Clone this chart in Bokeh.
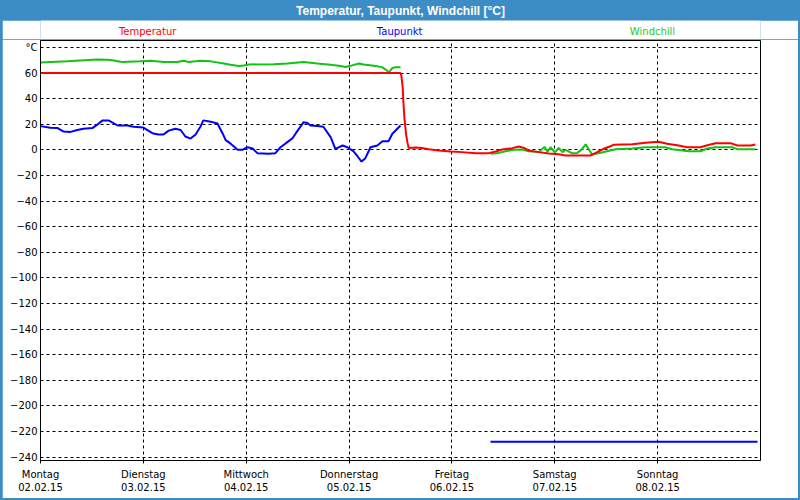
from bokeh.plotting import figure
from bokeh.models import FixedTicker, Range1d, Label
from bokeh.layouts import column
from bokeh.embed import file_html
from bokeh.resources import INLINE

NaN = float("nan")

# ---- data (hours since Monday 02.02.15 00:00) ----
day_ticks = [0, 24, 48, 72, 96, 120, 144]
day_labels = ["Montag\n02.02.15", "Dienstag\n03.02.15", "Mittwoch\n04.02.15",
              "Donnerstag\n05.02.15", "Freitag\n06.02.15", "Samstag\n07.02.15",
              "Sonntag\n08.02.15"]
y_ticks = [-240, -220, -200, -180, -160, -140, -120, -100, -80, -60, -40, -20, 0, 20, 40, 60, 80]
series_names = ["Temperatur", "Taupunkt", "Windchill"]
chart_title = "Temperatur, Taupunkt, Windchill [°C]"

temp_h = [0, 84, 84.2, 84.5, 84.7, 84.9, 85.3, 85.6, 85.9, 87.5,
          89, 90.6, 92.9, 95.7, 98.4, 101.5, 104.6, 106.2, 107.7, 110.1,
          111.6, 112.8, 113.9, 116.3, 118.6, 120.9, 122.5, 124.8, 128.3, 129.9,
          131.4, 133, 133.7, 138.1, 141.2, 144.2, 146.2, 148.9, 150.9, 154,
          155.6, 157.5, 161, 162.6, 165.7, 166.8]
temp_v = [60, 60, 58, 49, 36, 25.5, 12, 6, 1.5, 1.8,
          1.5, 0.5, -0.5, -1.3, -1.8, -2.6, -2.6, -1.3, 0.2, 1.3,
          2.6, 1.5, -0.5, -1.8, -2.9, -3.4, -4.5, -4.5, -4.5, -1.8,
          0.8, 2.8, 3.9, 4.4, 5.5, 6.3, 4.7, 3.4, 2, 2,
          3.6, 5.2, 5.2, 3.4, 3.4, 4.2]

tau_h = [0, 2.3, 4, 5.4, 7, 8.6, 10, 12.1, 13.5, 14.5,
         15.9, 18, 20.3, 21.7, 24, 26.1, 27.5, 28.7, 29.9, 31.5,
         32.7, 33.8, 35, 36.2, 37.3, 38, 39.7, 41.3, 42.5, 43.2,
         44.3, 46, 47.1, 48.3, 49.5, 50.6, 53.2, 54.8, 56, 57.6,
         58.8, 60, 61.4, 62.3, 63, 64.6, 66, 67.7, 68.8, 70.5,
         71.6, 73, 74, 74.9, 75.8, 77, 78.6, 79.8, 81.2, 82.1,
         84, NaN, 105, 120, 135, 150, 167.3]
tau_v = [18.5, 17.2, 17, 14.3, 14, 15.5, 16.5, 17, 20.3, 23,
         23, 19, 19, 18, 17.4, 13, 12, 12, 15, 16.5,
         15.5, 10.4, 8.8, 12, 18, 23, 22, 20.5, 12.8, 7.6,
         5, 0, 0, 2, 1, -2.6, -3.1, -2.6, 2, 6,
         9, 15, 21.6, 21, 19, 18.6, 18, 9.9, 0.8, 3.4,
         2, -1, -5.2, -9.2, -6.5, 2, 3.4, 6.7, 6.7, 12.5,
         19, NaN, -228, -228, -228, -228, -228]

wind_h = [0, 6.2, 13.2, 15.6, 16.7, 19, 23.3, 25.7, 28.8, 31.9,
          33.4, 34.6, 37.3, 39.7, 42.8, 44.3, 46.3, 47.4, 48.6, 54.4,
          57.6, 61.4, 64.6, 67.7, 70, 71.2, 72.3, 74.3, 75.4, 77.8,
          79.7, 80.9, 81.3, 82.1, 82.8, 84, NaN,
          105, 106.9, 108.5, 110.4, 112.4, 113.9, 116.3, 117.6, 118.3, 119,
          120, 120.9, 121.8, 122.5, 124, 125.2, 126.2, 127.2, 128.7, 130.7,
          132.2, 134.2, 138.1, 141.2, 145.8, 147.4, 151.2, 154, 155.6, 157.5,
          161.4, 162.6, 166.8]
wind_v = [68.3, 69.1, 70.6, 70.4, 69.9, 68.6, 69.1, 69.6, 68.6, 68.6,
          69.6, 68.6, 69.6, 69.1, 67.5, 66.5, 65.4, 65.8, 66.7, 66.9,
          67.5, 68.6, 67.5, 66.5, 65.4, 64.7, 65.6, 67.5, 66.7, 65.6,
          64.6, 61.8, 60.5, 63.9, 64.6, 64.6, NaN,
          -3.1, -2.4, -1.1, 0, 0.2, -1.1, -1.8, 2.3, -1.5, 2,
          -2, 1.5, -1.8, 0, -2.6, -2.4, 0, 4.3, -3.7, -2.3,
          -1.1, 0.5, 1, 2, 2, 0.5, -1.1, -1.1, 1, 2,
          2, 0.5, 0.5]

RED = "#ff0000"
BLUE = "#0000ff"
GREEN = "#12c412"
GREEN_TXT = "#22cc22"
BAR = "#3c8dc5"
FONT = "DejaVu Sans"


def bare(width, height, fill):
    f = figure(width=width, height=height, output_backend="svg", toolbar_location=None,
               x_range=Range1d(0, 168), y_range=Range1d(0, height),
               x_axis_location=None, y_axis_location=None, title_location=None,
               min_border=0, outline_line_color=None)
    f.grid.visible = False
    f.background_fill_color = fill
    f.border_fill_color = fill
    return f


# ---- title bar ----
bar = bare(800, 20, BAR)
bar.add_layout(Label(x=84, y=10, text=chart_title, text_align="center", text_baseline="middle",
                     text_color="white", text_font="Liberation Sans", text_font_style="bold",
                     text_font_size="12px"))

# ---- series names row ----
names = bare(796, 19, "white")
names.margin = (0, 2, 0, 2)
for name, col, xpos in zip(series_names, [RED, BLUE, GREEN_TXT], [25, 83.8, 142.8]):
    names.add_layout(Label(x=xpos, y=8, text=name, text_align="center", text_baseline="middle",
                           text_color=col, text_font=FONT, text_font_size="10px"))

# ---- main chart ----
p = figure(width=796, height=459, output_backend="svg", toolbar_location=None,
           x_range=Range1d(0, 168), y_range=Range1d(-242.7, 85.4),
           min_border_left=38, min_border_right=38, min_border_top=1, min_border_bottom=38,
           title_location=None)
p.margin = (0, 2, 2, 2)
p.background_fill_color = "white"
p.border_fill_color = "white"
p.outline_line_color = "black"
p.outline_line_width = 1

p.xaxis.ticker = FixedTicker(ticks=day_ticks)
p.xaxis.major_label_overrides = {t: l for t, l in zip(day_ticks, day_labels)}
p.yaxis.ticker = FixedTicker(ticks=y_ticks)
p.yaxis.major_label_overrides = {80: "°C"}
for ax in (p.xaxis, p.yaxis):
    ax.axis_line_color = "black"
    ax.minor_tick_line_color = None
    ax.major_tick_line_color = "black"
    ax.major_tick_in = 0
    ax.major_label_text_font = FONT
    ax.major_label_text_font_size = "10px"
    ax.major_label_text_color = "black"
p.xaxis.major_tick_out = 3
p.xaxis.major_label_standoff = 5
p.yaxis.major_tick_out = 0
p.yaxis.major_label_standoff = 3

for g in (p.xgrid, p.ygrid):
    g.grid_line_color = "black"
    g.grid_line_dash = "3 3"
    g.grid_line_width = 1
    g.grid_line_alpha = 1

p.line(wind_h, wind_v, line_color=GREEN, line_width=2)
p.line(temp_h, temp_v, line_color=RED, line_width=2)
p.line(tau_h, tau_v, line_color=BLUE, line_width=2)

layout = column(bar, names, p, spacing=0, styles={"background-color": BAR})

open("out.html", "w").write(file_html(layout, INLINE))
